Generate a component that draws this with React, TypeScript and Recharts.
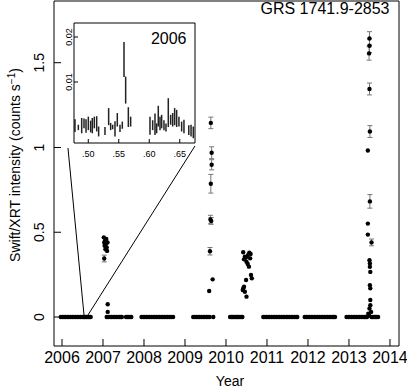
import React from 'react';
import { ScatterChart, Scatter, XAxis, YAxis, ErrorBar, ReferenceLine } from 'recharts';

const FONT = '"Liberation Sans", Arial, sans-serif';

// ---------- main light curve data ----------
const YEAR_TICKS = [2006, 2007, 2008, 2009, 2010, 2011, 2012, 2013, 2014];
const RATE_TICKS = [0, 0.5, 1, 1.5];

// quiescent observations (rate ~ 0)
const quiet2006 = [2005.97, 2006.01, 2006.05, 2006.09, 2006.13, 2006.17, 2006.21, 2006.25, 2006.29, 2006.33, 2006.37, 2006.41, 2006.45, 2006.49, 2006.52, 2006.55, 2006.58, 2006.61, 2006.64, 2006.67, 2006.7];
const quiet2007 = [2007.09, 2007.13, 2007.17, 2007.21, 2007.25, 2007.29, 2007.33, 2007.37, 2007.41, 2007.44, 2007.46, 2007.56, 2007.59, 2007.62, 2007.66, 2007.69];
const quiet2008 = [2007.94, 2007.98, 2008.02, 2008.06, 2008.1, 2008.14, 2008.18, 2008.22, 2008.26, 2008.3, 2008.34, 2008.38, 2008.42, 2008.46, 2008.5, 2008.54, 2008.58, 2008.62, 2008.66, 2008.71];
const quiet2009 = [2009.2, 2009.24, 2009.28, 2009.32, 2009.36, 2009.4, 2009.44, 2009.48, 2009.52, 2009.56, 2009.6, 2009.69];
const quiet2010 = [2010.1, 2010.13, 2010.16, 2010.19, 2010.22, 2010.25, 2010.28, 2010.31, 2010.34, 2010.37, 2010.4];
const quiet2011 = [2010.91, 2010.95, 2010.99, 2011.03, 2011.07, 2011.11, 2011.15, 2011.19, 2011.23, 2011.27, 2011.31, 2011.35, 2011.39, 2011.43, 2011.47, 2011.51, 2011.55, 2011.59, 2011.63, 2011.67, 2011.71, 2011.74];
const quiet2012 = [2011.92, 2011.96, 2012.0, 2012.04, 2012.08, 2012.12, 2012.16, 2012.2, 2012.24, 2012.28, 2012.32, 2012.36, 2012.4, 2012.44, 2012.48, 2012.52, 2012.56, 2012.6, 2012.63, 2012.66];
const quiet2013 = [2012.94, 2012.98, 2013.02, 2013.06, 2013.1, 2013.14, 2013.18, 2013.22, 2013.26, 2013.3, 2013.34, 2013.38, 2013.41, 2013.44, 2013.55, 2013.58, 2013.61, 2013.64, 2013.67, 2013.71];

const burst2007 = [
  { t: 2007.02, rate: 0.47, err: 0 },
  { t: 2007.03, rate: 0.44, err: 0 },
  { t: 2007.04, rate: 0.42, err: 0 },
  { t: 2007.05, rate: 0.45, err: 0 },
  { t: 2007.06, rate: 0.4, err: 0 },
  { t: 2007.07, rate: 0.43, err: 0 },
  { t: 2007.08, rate: 0.46, err: 0 },
  { t: 2007.09, rate: 0.41, err: 0 },
  { t: 2007.1, rate: 0.39, err: 0 },
  { t: 2007.11, rate: 0.44, err: 0 },
  { t: 2007.03, rate: 0.345, err: 0.02 },
  { t: 2007.115, rate: 0.075, err: 0 },
  { t: 2007.115, rate: 0.03, err: 0 },
];

const burst2009 = [
  { t: 2009.63, rate: 1.145, err: 0.034 },
  { t: 2009.65, rate: 0.969, err: 0.035 },
  { t: 2009.65, rate: 0.898, err: 0.03 },
  { t: 2009.63, rate: 0.786, err: 0.055 },
  { t: 2009.62, rate: 0.575, err: 0.025 },
  { t: 2009.64, rate: 0.567, err: 0.02 },
  { t: 2009.61, rate: 0.388, err: 0.022 },
  { t: 2009.675, rate: 0.222, err: 0 },
  { t: 2009.59, rate: 0.153, err: 0 },
];

const burst2010 = [
  { t: 2010.42, rate: 0.382, err: 0 },
  { t: 2010.46, rate: 0.356, err: 0 },
  { t: 2010.44, rate: 0.34, err: 0 },
  { t: 2010.5, rate: 0.326, err: 0 },
  { t: 2010.54, rate: 0.366, err: 0 },
  { t: 2010.57, rate: 0.38, err: 0 },
  { t: 2010.59, rate: 0.346, err: 0 },
  { t: 2010.53, rate: 0.313, err: 0 },
  { t: 2010.56, rate: 0.297, err: 0 },
  { t: 2010.49, rate: 0.352, err: 0 },
  { t: 2010.6, rate: 0.372, err: 0 },
  { t: 2010.61, rate: 0.248, err: 0 },
  { t: 2010.63, rate: 0.228, err: 0 },
  { t: 2010.49, rate: 0.218, err: 0 },
  { t: 2010.44, rate: 0.179, err: 0 },
  { t: 2010.42, rate: 0.169, err: 0 },
  { t: 2010.46, rate: 0.149, err: 0 },
  { t: 2010.5, rate: 0.12, err: 0 },
  { t: 2010.41, rate: 0.159, err: 0 },
];

const burst2013 = [
  { t: 2013.5, rate: 1.643, err: 0.04 },
  { t: 2013.5, rate: 1.6, err: 0.04 },
  { t: 2013.49, rate: 1.555, err: 0.04 },
  { t: 2013.5, rate: 1.345, err: 0.035 },
  { t: 2013.51, rate: 1.094, err: 0.035 },
  { t: 2013.46, rate: 0.982, err: 0 },
  { t: 2013.51, rate: 0.682, err: 0.04 },
  { t: 2013.46, rate: 0.551, err: 0 },
  { t: 2013.46, rate: 0.486, err: 0 },
  { t: 2013.55, rate: 0.44, err: 0.02 },
  { t: 2013.5, rate: 0.335, err: 0 },
  { t: 2013.51, rate: 0.316, err: 0 },
  { t: 2013.51, rate: 0.296, err: 0 },
  { t: 2013.52, rate: 0.266, err: 0 },
  { t: 2013.51, rate: 0.188, err: 0 },
  { t: 2013.52, rate: 0.169, err: 0 },
  { t: 2013.52, rate: 0.1, err: 0 },
  { t: 2013.52, rate: 0.07, err: 0 },
  { t: 2013.5, rate: 0.05, err: 0 },
  { t: 2013.47, rate: 0.02, err: 0 },
  { t: 2013.49, rate: 0.008, err: 0 },
  { t: 2013.54, rate: 0.03, err: 0 },
];

// inset: 2006 zoom (fraction of year, rate, error)
const insetTime = [0.4782, 0.4837, 0.4892, 0.493, 0.4963, 0.5001, 0.5039, 0.5066, 0.5099, 0.5138, 0.517, 0.5274, 0.5334, 0.5367, 0.54, 0.5438, 0.5476, 0.552, 0.5558, 0.5586, 0.5613, 0.5657, 0.5695, 0.6012, 0.6056, 0.6094, 0.6121, 0.6148, 0.6176, 0.6203, 0.6241, 0.6274, 0.6312, 0.6351, 0.6384, 0.6416, 0.6449, 0.6487, 0.6531, 0.6569, 0.6648, 0.6685, 0.6722];
const insetRate = [0.0003, -0.0001, 0.0003, 0.0008, 0.0002, 0.0008, 0.0001, 0.0003, 0.001, 0.0007, -0.001, -0.0009, 0.0023, 0.0001, 0.0, -0.0004, 0.0016, -0.0003, 0.0004, 0.015, 0.0082, 0.0022, 0.0012, 0.0003, 0.0004, 0.0006, -0.0003, 0.0024, 0.0008, 0.0012, 0.0004, -0.0001, 0.0032, 0.0016, 0.0016, 0.0023, 0.0019, 0.0012, 0.0001, 0.0001, -0.0007, -0.0008, -0.0012];
const insetErr = [0.0014, 0.0006, 0.0017, 0.0011, 0.0015, 0.0015, 0.0013, 0.0017, 0.0013, 0.0017, 0.0011, 0.0009, 0.0019, 0.0008, 0.0005, 0.0017, 0.0015, 0.0008, 0.0008, 0.0039, 0.003, 0.0022, 0.0011, 0.002, 0.0011, 0.0024, 0.0011, 0.0023, 0.0015, 0.0015, 0.0011, 0.0009, 0.0032, 0.0011, 0.0015, 0.0019, 0.0019, 0.0011, 0.0011, 0.0015, 0.0011, 0.0013, 0.0013];
const INSET_T_TICKS = [0.5, 0.55, 0.6, 0.65];
const INSET_RATE_TICKS = [0.005, 0.01, 0.015, 0.02];

// zoom connector lines (data coordinates of main plot)
const CONNECT_LEFT = [{ x: 2006.146, y: 0.997 }, { x: 2006.537, y: 0.012 }];
const CONNECT_RIGHT = [{ x: 2009.244, y: 1.009 }, { x: 2006.634, y: 0.012 }];

const quietAll = [...quiet2006, ...quiet2007, ...quiet2008, ...quiet2009, ...quiet2010, ...quiet2011, ...quiet2012, ...quiet2013];
const allPoints = [
  ...quietAll.map((t) => ({ t, rate: 0, err: 0 })),
  ...burst2007,
  ...burst2009,
  ...burst2010,
  ...burst2013,
];
const pointsWithErr = allPoints.filter((p) => p.err > 0);
const pointsNoErr = allPoints.filter((p) => !(p.err > 0));
const insetPoints = insetTime.map((t, i) => ({ t, rate: insetRate[i], err: insetErr[i] }));

const X_DOMAIN = [2005.805, 2014.22];
const Y_DOMAIN = [-0.171, 1.864];
const INSET_X_DOMAIN = [0.4766, 0.675];
const INSET_Y_DOMAIN = [-0.00356, 0.02311];

const Dot = (p: any) => <circle cx={p.cx} cy={p.cy} r={2.2} fill="#000" />;
const NoDot = () => <g />;

const YTick = (props: any) => {
  const { x, y, payload } = props;
  return (
    <text x={x} y={y} transform={`rotate(-90 ${x} ${y})`} textAnchor="middle" fontSize={14} fontFamily={FONT} fill="#000">
      {String(payload.value)}
    </text>
  );
};

const InsetYTick = (props: any) => {
  const { x, y, payload } = props;
  const v = payload.value;
  const major = Math.abs(v * 100 - Math.round(v * 100)) < 1e-9;
  if (!major) return <g />;
  return (
    <text x={x} y={y} transform={`rotate(-90 ${x} ${y})`} textAnchor="middle" fontSize={9} fontFamily={FONT} fill="#000">
      {v.toFixed(2)}
    </text>
  );
};

export default function App() {
  return (
    <div style={{ position: 'absolute', left: 0, top: 0, width: 407, height: 388, background: '#fff' }}>
      <div style={{ position: 'absolute', left: 0, top: 0 }}>
        <ScatterChart width={407} height={388} margin={{ top: 0, right: 7, bottom: 12, left: 53 }}>
          <XAxis
            xAxisId={0}
            dataKey="t"
            type="number"
            domain={X_DOMAIN}
            ticks={YEAR_TICKS}
            allowDataOverflow
            height={30}
            stroke="#000"
            tickSize={-7}
            tickMargin={13}
            tick={{ fontSize: 16, fill: '#000', fontFamily: FONT }}
          />
          <XAxis
            xAxisId="top"
            orientation="top"
            type="number"
            domain={X_DOMAIN}
            ticks={YEAR_TICKS}
            allowDataOverflow
            height={1}
            stroke="#000"
            tickSize={-7}
            tick={false}
          />
          <YAxis
            yAxisId={0}
            dataKey="rate"
            type="number"
            domain={Y_DOMAIN}
            ticks={RATE_TICKS}
            allowDataOverflow
            width={1}
            stroke="#000"
            tickSize={-7}
            tickMargin={17}
            tick={<YTick />}
          />
          <YAxis
            yAxisId="right"
            orientation="right"
            type="number"
            domain={Y_DOMAIN}
            ticks={RATE_TICKS}
            allowDataOverflow
            width={1}
            stroke="#000"
            tickSize={-7}
            tick={false}
          />
          <ReferenceLine segment={CONNECT_LEFT} stroke="#000" strokeWidth={1} ifOverflow="visible" />
          <ReferenceLine segment={CONNECT_RIGHT} stroke="#000" strokeWidth={1} ifOverflow="visible" />
          <Scatter data={pointsNoErr} shape={Dot} isAnimationActive={false} />
          <Scatter data={pointsWithErr} shape={Dot} isAnimationActive={false}>
            <ErrorBar dataKey="err" direction="y" width={2.5} stroke="#777" strokeWidth={1} isAnimationActive={false} />
          </Scatter>
        </ScatterChart>
      </div>

      <div style={{ position: 'absolute', left: 50, top: 10 }}>
        <ScatterChart width={160} height={160} margin={{ top: 12, right: 14, bottom: 7, left: 23 }}>
          <XAxis
            xAxisId={0}
            dataKey="t"
            type="number"
            domain={INSET_X_DOMAIN}
            ticks={INSET_T_TICKS}
            allowDataOverflow
            height={20}
            stroke="#000"
            tickSize={-4}
            tickMargin={12}
            tickFormatter={(v: number) => v.toFixed(2).replace(/^0/, '')}
            tick={{ fontSize: 9, fill: '#000', fontFamily: FONT }}
          />
          <XAxis
            xAxisId="top"
            orientation="top"
            type="number"
            domain={INSET_X_DOMAIN}
            ticks={INSET_T_TICKS}
            allowDataOverflow
            height={1}
            stroke="#000"
            tickSize={-4}
            tick={false}
          />
          <YAxis
            yAxisId={0}
            dataKey="rate"
            type="number"
            domain={INSET_Y_DOMAIN}
            ticks={INSET_RATE_TICKS}
            allowDataOverflow
            width={1}
            stroke="#000"
            tickSize={-4}
            tickMargin={6}
            tick={<InsetYTick />}
          />
          <YAxis
            yAxisId="right"
            orientation="right"
            type="number"
            domain={INSET_Y_DOMAIN}
            ticks={INSET_RATE_TICKS}
            allowDataOverflow
            width={1}
            stroke="#000"
            tickSize={-4}
            tick={false}
          />
          <Scatter data={insetPoints} shape={NoDot} isAnimationActive={false}>
            <ErrorBar dataKey="err" direction="y" width={0} stroke="#222" strokeWidth={1.5} isAnimationActive={false} />
          </Scatter>
        </ScatterChart>
      </div>

      <svg width={407} height={388} style={{ position: 'absolute', left: 0, top: 0, pointerEvents: 'none' }}>
        <text x={325} y={13.5} textAnchor="middle" fontSize={16} fontFamily={FONT} fill="#000">GRS 1741.9-2853</text>
        <text x={168.7} y={43.5} textAnchor="middle" fontSize={16} fontFamily={FONT} fill="#000">2006</text>
        <text x={230} y={386} textAnchor="middle" fontSize={14} fontFamily={FONT} fill="#000">Year</text>
        <text x={20} y={165} transform="rotate(-90 20 165)" textAnchor="middle" fontSize={14} fontFamily={FONT} fill="#000">
          Swift/XRT intensity (counts s<tspan dy={-5} fontSize={10}>−1</tspan><tspan dy={5}>)</tspan>
        </text>
      </svg>
    </div>
  );
}
